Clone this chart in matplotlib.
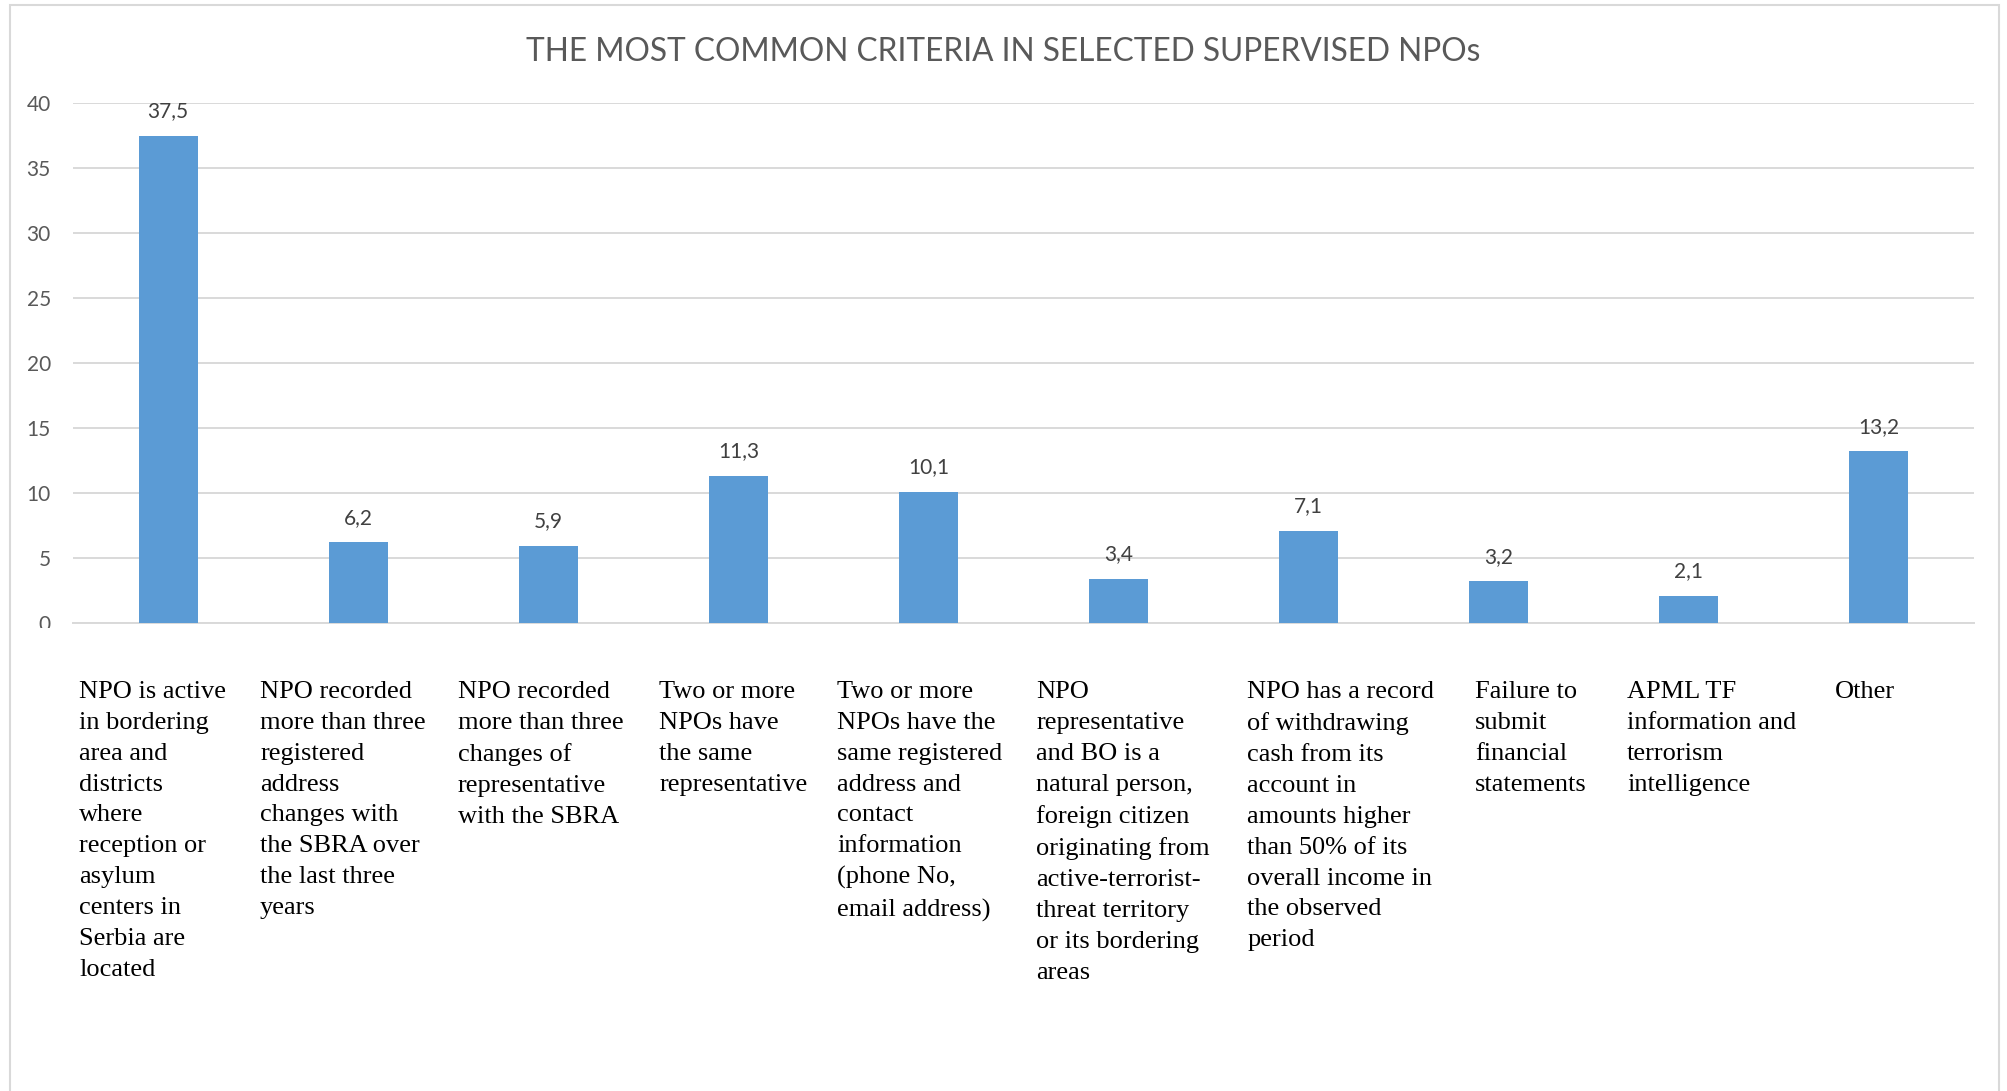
import matplotlib.pyplot as plt
import matplotlib.transforms as mtransforms
from matplotlib.patches import Rectangle
from matplotlib import font_manager

title = "THE MOST COMMON CRITERIA IN SELECTED SUPERVISED NPOs"

categories = [
    "NPO is active\nin bordering\narea and\ndistricts\nwhere\nreception or\nasylum\ncenters in\nSerbia are\nlocated",
    "NPO recorded\nmore than three\nregistered\naddress\nchanges with\nthe SBRA over\nthe last three\nyears",
    "NPO recorded\nmore than three\nchanges of\nrepresentative\nwith the SBRA",
    "Two or more\nNPOs have\nthe same\nrepresentative",
    "Two or more\nNPOs have the\nsame registered\naddress and\ncontact\ninformation\n(phone No,\nemail address)",
    "NPO\nrepresentative\nand BO is a\nnatural person,\nforeign citizen\noriginating from\nactive-terrorist-\nthreat territory\nor its bordering\nareas",
    "NPO has a record\nof withdrawing\ncash from its\naccount in\namounts higher\nthan 50% of its\noverall income in\nthe observed\nperiod",
    "Failure to\nsubmit\nfinancial\nstatements",
    "APML TF\ninformation and\nterrorism\nintelligence",
    "Other",
]
values = [37.5, 6.2, 5.9, 11.3, 10.1, 3.4, 7.1, 3.2, 2.1, 13.2]
yticks = [0, 5, 10, 15, 20, 25, 30, 35, 40]

# left edge of each category text, relative to the category position
label_shift = [-0.468, -0.516, -0.475, -0.417, -0.481, -0.434, -0.324, -0.125, -0.325, -0.23]

plt.rcParams["font.serif"] = ["Liberation Serif", "DejaVu Serif"]
print(font_manager.findfont("Liberation Serif"))

W, H = 2007, 1091
fig = plt.figure(figsize=(W / 100, H / 100), dpi=100)
ax = fig.add_axes([73 / W, 1 - 623 / H, 1901 / W, 520 / H])

x = list(range(len(values)))
bars = ax.bar(x, values, width=0.31, color="#5B9BD5", zorder=3)

ax.set_xlim(-0.5, len(values) - 0.5)
ax.set_ylim(0, 40)
ax.set_yticks(yticks)
ax.set_yticklabels([str(t) for t in yticks], fontfamily="Lato", fontsize=15, color="#595959")
ax.set_xticks([])
ax.tick_params(axis="y", length=0, pad=16)
ax.grid(axis="y", color="#D9D9D9", linewidth=1.4, zorder=0)
for s in ["top", "right", "left"]:
    ax.spines[s].set_visible(False)
ax.spines["bottom"].set_color("#D9D9D9")
ax.spines["bottom"].set_linewidth(1.4)

for b, v in zip(bars, values):
    ax.annotate(f"{v:.1f}".replace(".", ","), (b.get_x() + b.get_width() / 2, v),
                xytext=(0, 13.5), textcoords="offset points", ha="center", va="baseline",
                fontfamily="Lato", fontsize=15, color="#404040")

fig.text(0.5, 1 - 61 / H, title, ha="center", va="baseline",
         fontfamily="Lato", fontsize=22.8, color="#595959")

trans = mtransforms.blended_transform_factory(ax.transData, fig.transFigure)
for i, (lab, sh) in enumerate(zip(categories, label_shift)):
    fig.text(i + sh, 1 - 681 / H, lab, transform=trans, ha="left", va="top",
             family="serif", fontsize=19, color="black", linespacing=1.52)

# the "0" tick label is half hidden in the original
fig.patches.append(Rectangle((20 / W, 1 - 640 / H), 40 / W, 12 / H, transform=fig.transFigure,
                             facecolor="white", edgecolor="none", zorder=5))

# outer chart border
fig.patches.append(Rectangle((10 / W, -0.01), 1989 / W, 1.01 - 5 / H, transform=fig.transFigure,
                             fill=False, edgecolor="#D9D9D9", linewidth=1.5))

fig.savefig("out.png", dpi=100)
